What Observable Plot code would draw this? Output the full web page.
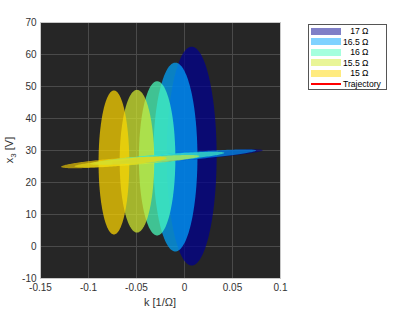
<!DOCTYPE html>
<html>
<head>
<meta charset="utf-8">
<script src="https://cdn.jsdelivr.net/npm/d3@7"></script>
<script src="https://cdn.jsdelivr.net/npm/@observablehq/plot@0.6"></script>
<style>
  body { margin: 0; background: #fff; font-family: "Liberation Sans", Arial, sans-serif; }
  #wrap { position: relative; width: 415px; height: 312px; }
  #legend { position: absolute; left: 308px; top: 24px; width: 77px; height: 64px;
            border: 1px solid #555; background: #fff; font-size: 8.6px; color: #000; }
  .row { position: absolute; left: 2px; height: 10px; display: flex; align-items: center; }
  .sw { width: 30px; height: 7px; margin-right: 2px; }
  .lab { white-space: pre; text-align: left; }
</style>
</head>
<body>
<div id="wrap"></div>
<script>
// ---- data ----
const resistance = ["17 Ω", "16.5 Ω", "16 Ω", "15.5 Ω", "15 Ω"];
const colors = ["#000090", "#00a5ff", "#4bffbe", "#d4ec30", "#ffd700"];
// vertical ellipses
const centerK = [0.008, -0.009, -0.028, -0.049, -0.073];
const centerX3 = [28.1, 27.8, 27.4, 26.5, 26.1];
const halfWidthK = [0.026, 0.023, 0.019, 0.018, 0.016];
const halfHeightX3 = [34.2, 29.5, 24.1, 22.3, 22.5];
// thin tilted ellipses
const bandHalfLenK = [0.074, 0.084, 0.07, 0.065, 0.055];
const bandHalfThick = [1.1, 1.2, 1.1, 1.1, 1.2];
const bandSlope = 24.5;
// trajectory
const trajK = [-0.074, -0.062, -0.049];
const trajX3 = [26.1, 26.4, 26.8];
// ticks
const xTicks = [-0.15, -0.1, -0.05, 0, 0.05, 0.1];
const yTicks = [-10, 0, 10, 20, 30, 40, 50, 60, 70];

// ---- shapes ----
const N = 90;
const ellipseRows = [];
const bandRows = [];
resistance.forEach((r, i) => {
  for (let j = 0; j <= N; j++) {
    const t = Math.PI * j / N;
    const k = centerK[i] + halfWidthK[i] * Math.cos(t);
    const h = halfHeightX3[i] * Math.sin(t);
    ellipseRows.push({id: r, k, y1: centerX3[i] - h, y2: centerX3[i] + h, c: colors[i]});
    const kb = centerK[i] + bandHalfLenK[i] * Math.cos(t);
    const yc = centerX3[i] + bandSlope * (kb - centerK[i]);
    const hb = bandHalfThick[i] * Math.sin(t);
    bandRows.push({id: r, k: kb, y1: yc - hb, y2: yc + hb, c: colors[i]});
  }
});
const traj = trajK.map((k, i) => ({k, x3: trajX3[i]}));

const chart = Plot.plot({
  width: 415, height: 312,
  marginLeft: 40, marginRight: 135, marginTop: 22, marginBottom: 34,
  style: {fontFamily: "Liberation Sans, Arial, sans-serif", fontSize: "10px", color: "#333", background: "transparent"},
  x: {domain: [-0.15, 0.1]},
  y: {domain: [-10, 70]},
  marks: [
    Plot.frame({fill: "#262626"}),
    Plot.gridX(xTicks, {stroke: "#4a4a4a", strokeOpacity: 1}),
    Plot.gridY(yTicks, {stroke: "#4a4a4a", strokeOpacity: 1}),
    Plot.areaY(ellipseRows, {x: "k", y1: "y1", y2: "y2", z: "id", fill: "c", fillOpacity: 0.72, curve: "linear"}),
    Plot.line(traj, {x: "k", y: "x3", stroke: "#ff2000", strokeWidth: 3}),
    Plot.areaY(bandRows, {x: "k", y1: "y1", y2: "y2", z: "id", fill: "c", fillOpacity: 0.6, curve: "linear"}),
    Plot.frame({stroke: "#c8c8c8"}),
    Plot.axisX(xTicks, {tickSize: 0, tickPadding: 5, tickFormat: d => String(d), label: null, fontSize: 10}),
    Plot.axisY(yTicks, {tickSize: 0, tickPadding: 4, tickFormat: d => String(d), label: null, fontSize: 10})
  ]
});
document.getElementById("wrap").appendChild(chart);

// axis labels
const svg = d3.select(chart);
svg.append("text").attr("x", 160).attr("y", 306).attr("text-anchor", "middle")
  .attr("font-size", 11).attr("fill", "#333").text("k [1/Ω]");
const yl = svg.append("text").attr("transform", "translate(13,150) rotate(-90)")
  .attr("text-anchor", "middle").attr("font-size", 11).attr("fill", "#333");
yl.append("tspan").text("x");
yl.append("tspan").attr("font-size", 8).attr("dy", 3).text("3");
yl.append("tspan").attr("dy", -3).text(" [V]");

// legend
const legendLabels = ["   17 Ω", "16.5 Ω", "   16 Ω", "15.5 Ω", "   15 Ω", "Trajectory"];
const leg = document.createElement("div");
leg.id = "legend";
legendLabels.forEach((lab, i) => {
  const row = document.createElement("div");
  row.className = "row";
  row.style.top = (1 + i * 10.6) + "px";
  const sw = document.createElement("div");
  sw.className = "sw";
  if (i < 5) { sw.style.background = colors[i]; sw.style.opacity = 0.5; }
  else { sw.style.height = "2.5px"; sw.style.background = "#ff0000"; }
  const t = document.createElement("div");
  t.className = "lab";
  t.textContent = lab;
  row.appendChild(sw); row.appendChild(t);
  leg.appendChild(row);
});
document.getElementById("wrap").appendChild(leg);
</script>
</body>
</html>
